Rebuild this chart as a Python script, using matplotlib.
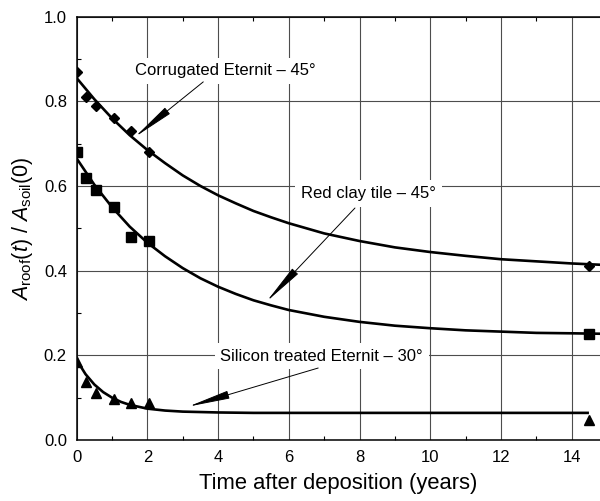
# roof deposition ratio vs time, three roof types
import numpy as np
import matplotlib
matplotlib.use('Agg')
import matplotlib.pyplot as plt
from matplotlib.ticker import MultipleLocator

plt.rcParams['font.family'] = ['Liberation Sans', 'DejaVu Sans']
plt.rcParams['mathtext.fontset'] = 'custom'
plt.rcParams['mathtext.rm'] = 'Liberation Sans'
plt.rcParams['mathtext.it'] = 'Liberation Sans:italic'

# measured points (years, ratio)
t_obs = [0.0, 0.25, 0.55, 1.05, 1.55, 2.05, 14.5]
corr_obs = [0.87, 0.81, 0.79, 0.76, 0.73, 0.68, 0.41]
clay_obs = [0.68, 0.62, 0.59, 0.55, 0.48, 0.47, 0.25]
sil_obs = [0.185, 0.138, 0.110, 0.096, 0.088, 0.088, 0.047]

# fitted curves
t_corr = [0, 0.5, 1, 1.5, 2, 2.5, 3, 3.5, 4, 4.5, 5, 5.5, 6, 7, 8, 9, 10, 11, 12, 13, 14, 14.8]
corr_fit = [0.855, 0.805, 0.760, 0.720, 0.685, 0.654, 0.625, 0.600, 0.578, 0.559, 0.541,
            0.526, 0.512, 0.488, 0.470, 0.455, 0.444, 0.435, 0.427, 0.422, 0.417, 0.414]
t_clay = [0, 0.5, 1, 1.5, 2, 2.5, 3, 3.5, 4, 4.5, 5, 5.5, 6, 7, 8, 9, 10, 11, 12, 13, 14, 14.8]
clay_fit = [0.665, 0.603, 0.550, 0.504, 0.466, 0.434, 0.406, 0.382, 0.362, 0.345, 0.330,
            0.318, 0.307, 0.291, 0.279, 0.270, 0.264, 0.259, 0.256, 0.253, 0.252, 0.251]
t_sil = [0, 0.25, 0.5, 0.75, 1, 1.25, 1.5, 2, 2.5, 3, 4, 5, 14.45]
sil_fit = [0.189, 0.1555, 0.131, 0.113, 0.100, 0.090, 0.083, 0.074, 0.0695, 0.067, 0.065, 0.064, 0.064]

# labels: text, text centre, arrow tail, arrow tip
labels = ['Corrugated Eternit \u2013 45\u00b0', 'Red clay tile \u2013 45\u00b0',
          'Silicon treated Eternit \u2013 30\u00b0']
label_xy = [(4.19, 0.872), (8.25, 0.582), (6.93, 0.198)]
arrow_tail = [(3.58, 0.846), (7.87, 0.548), (6.83, 0.170)]
arrow_tip = [(1.65, 0.716), (5.37, 0.327), (3.16, 0.079)]

fig = plt.figure(figsize=(6, 5.01), dpi=100)
ax = fig.add_axes([0.1278, 0.1218, 0.8722, 0.8449])

ax.plot(t_corr, corr_fit, c='k', lw=1.9, zorder=4)
ax.plot(t_clay, clay_fit, c='k', lw=1.9, zorder=4)
ax.plot(t_sil, sil_fit, c='k', lw=1.9, zorder=4)
ax.plot(t_obs, corr_obs, 'D', c='k', ms=5, zorder=3)
ax.plot(t_obs, clay_obs, 's', c='k', ms=6.5, zorder=3)
ax.plot(t_obs, sil_obs, '^', c='k', ms=7, zorder=3)

for txt, xy, tail, tip in zip(labels, label_xy, arrow_tail, arrow_tip):
  ax.text(xy[0], xy[1], txt, fontsize=12, ha='center', va='center', zorder=6,
          bbox=dict(boxstyle='square,pad=0.35', fc='white', ec='none'))
  ax.annotate('', xy=tip, xytext=tail, zorder=7,
              arrowprops=dict(arrowstyle='-|>,head_length=2.6,head_width=0.25',
                              mutation_scale=10, lw=0.7, color='k',
                              shrinkA=0, shrinkB=0))

ax.set_xlim(0, 14.8)
ax.set_ylim(0, 1.0)
ax.xaxis.set_major_locator(MultipleLocator(2))
ax.xaxis.set_minor_locator(MultipleLocator(1))
ax.yaxis.set_major_locator(MultipleLocator(0.2))
ax.yaxis.set_minor_locator(MultipleLocator(0.1))
ax.yaxis.set_major_formatter(plt.FormatStrFormatter('%.1f'))
ax.grid(True, which='major', color='0.3', lw=0.8)
ax.tick_params(which='both', direction='in', top=True, right=False,
               labelsize=12, pad=7)
ax.tick_params(which='major', length=0)
ax.tick_params(which='minor', length=3, width=0.8)
for s in ['left', 'bottom', 'top']:
  ax.spines[s].set_linewidth(1.1)
ax.spines['right'].set_visible(False)

ax.set_xlabel('Time after deposition (years)', fontsize=15.8, labelpad=6)
ax.set_ylabel(r'$A_{\mathrm{roof}}(t)\ /\ A_{\mathrm{soil}}(0)$', fontsize=15.5, labelpad=6)

plt.savefig('out.png', dpi=100)
